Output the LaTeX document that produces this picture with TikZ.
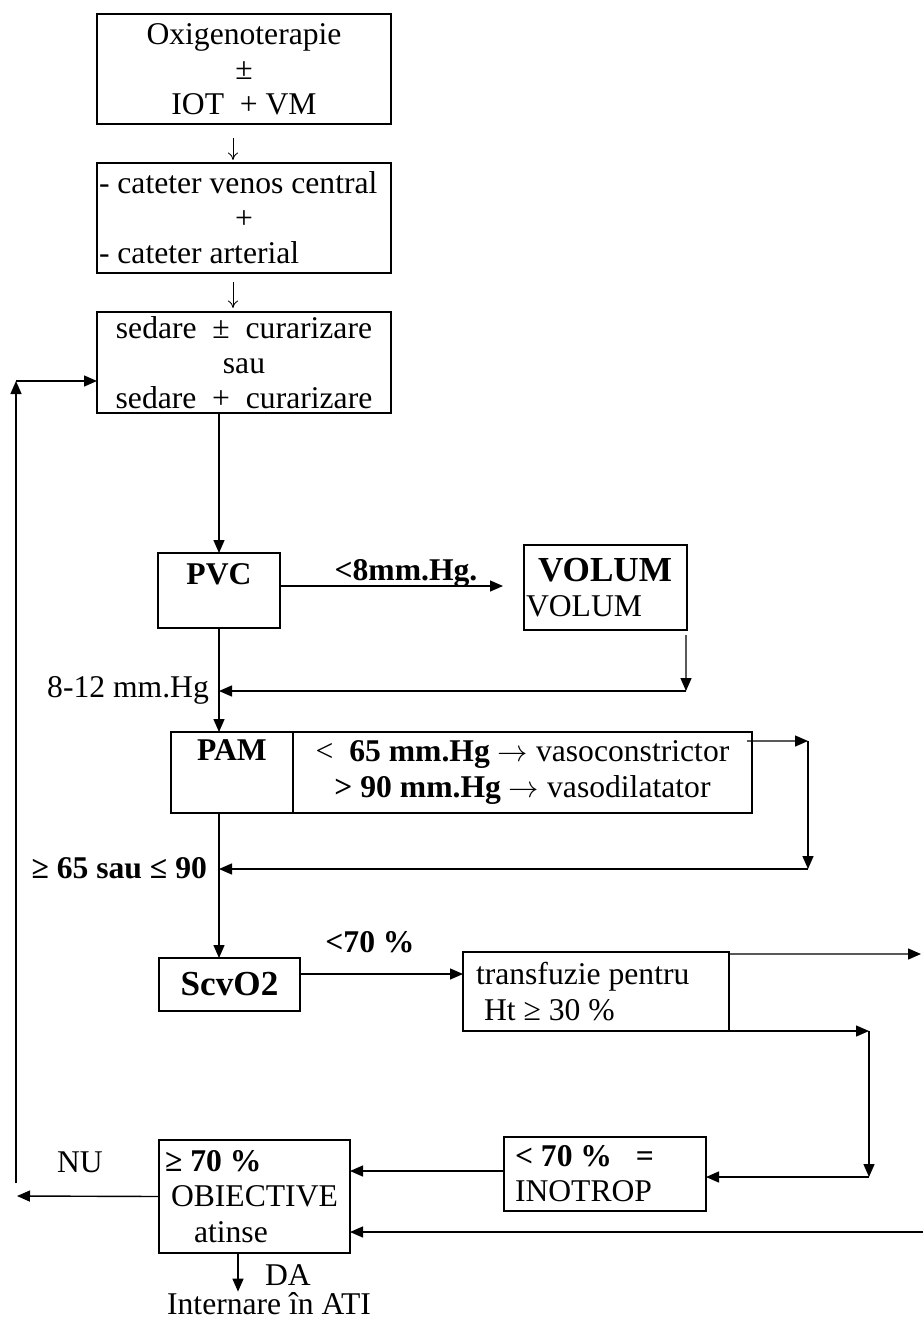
\documentclass[tikz,border=0pt]{standalone}
\usepackage{fontspec}
\setmainfont{Liberation Serif}
\usetikzlibrary{arrows.meta,positioning}
\newcommand{\fsz}{\fontsize{18}{20}\selectfont}
\newcommand{\fbig}{\fontsize{20}{22}\selectfont}

\begin{document}
\begin{tikzpicture}[
  box/.style={rectangle, draw, line width=1pt, outer sep=0pt, inner ysep=0pt, font=\fsz},
  arr/.style={-{Triangle[length=2.6mm,width=2.2mm]}, line width=0.8pt},
  tarr/.style={-{To[length=1.5mm,width=2mm]}, line width=0.5pt},
  lbl/.style={font=\fsz, inner sep=1pt}
]
\useasboundingbox (0,0) rectangle (18.46,-26.44);

% top column
\node[box, anchor=north west, minimum width=5.88cm, minimum height=2.2cm, align=center] (b1) at (1.94,-0.28) {Oxigenoterapie\\ ±\\ IOT\ \ + VM};
\node[box, anchor=north west, minimum width=5.88cm, minimum height=2.2cm, text width=5.8cm, inner xsep=0.04cm, align=flush left] (b2) at (1.94,-3.26) {- cateter\ venos\ central\\ \makebox[5.8cm]{+}\\ - cateter\ arterial};
\node[box, anchor=north west, minimum width=5.88cm, minimum height=2.02cm, align=center] (b3) at (1.94,-6.24) {sedare\ \ ±\ \ curarizare\\ sau\\ sedare\ \ +\ \ curarizare};

% checks
\node[box, anchor=north west, minimum width=2.44cm, inner xsep=0pt, text height=0.62cm, text depth=0.88cm, font=\fsz\bfseries] (pvc) at (3.16,-11.06) {PVC};
\node[box, anchor=north west, minimum width=3.26cm, minimum height=1.7cm, text width=3.18cm, inner xsep=0.04cm, align=flush left] (vol) at (10.48,-10.9) {\hspace*{0.24cm}{\fbig\bfseries VOLUM}\\ VOLUM};
\node[box, anchor=north west, minimum width=2.44cm, inner xsep=0pt, text height=0.56cm, text depth=1.06cm, font=\fsz\bfseries] (pam) at (3.42,-14.64) {PAM};
\node[box, right=0pt of pam, minimum width=9.18cm, minimum height=1.62cm, align=center] (pamr) {<\ \ \textbf{65 mm.Hg} $\rightarrow$ vasoconstrictor\\ \textbf{> 90 mm.Hg} $\rightarrow$ vasodilatator};
\node[box, anchor=north west, minimum width=2.82cm, minimum height=1.06cm, font=\fbig\bfseries] (scv) at (3.18,-19.16) {ScvO2};
\node[box, anchor=north west, minimum width=5.32cm, minimum height=1.58cm, text width=4.8cm, inner xsep=0.26cm, align=flush left] (tr) at (9.26,-19.04) {transfuzie pentru\\ \hspace*{0.16cm}Ht ≥ 30 \%};
\node[box, anchor=north west, minimum width=4.04cm, minimum height=1.48cm, text width=3.6cm, inner xsep=0.22cm, align=flush left] (ino) at (10.08,-22.74) {\textbf{< 70 \%\ \ \ =}\\ INOTROP};
\node[box, anchor=north west, minimum width=3.82cm, minimum height=2.26cm, text width=3.58cm, inner xsep=0.12cm, align=flush left] (obj) at (3.18,-22.8) {\textbf{≥ 70 \%}\\ \hspace*{0.12cm}OBIECTIVE\\ \hspace*{0.58cm}atinse};
\node[lbl, anchor=base, inner sep=0pt, text depth=0pt] (ati) at (5.38,-26.28) {Internare în ATI};

% labels
\node[lbl, font=\fsz\bfseries] (l8) at (8.12,-11.46) {<8mm.Hg.};
\node[lbl, anchor=east] (l812) at (4.22,-13.8) {8-12 mm.Hg};
\node[lbl, anchor=east, font=\fsz\bfseries] (l65) at (4.18,-17.36) {≥ 65 sau ≤ 90};
\node[lbl, font=\fsz\bfseries] (l70) at (7.4,-18.84) {<70 \%};
\node[lbl] (lnu) at (1.6,-23.24) {NU};
\node[lbl] (lda) at (5.76,-25.5) {DA};

\coordinate (vj) at (13.72,-13.82);
\coordinate (pj1) at (16.16,-14.82);
\coordinate (pj2) at (16.16,-17.38);
\coordinate (re1) at (18.42,-19.08);
\coordinate (tb) at (17.38,-20.62);
\coordinate (tc) at (17.38,-23.54);
\coordinate (re2) at (18.46,-24.64);
\coordinate (fb1) at (0.34,-23.92);
\coordinate (fb2) at (0.32,-23.66);
\coordinate (fb3) at (0.32,-7.62);

\draw[tarr] ([xshift=-0.22cm,yshift=-0.28cm]b1.south) -- ([xshift=-0.22cm,yshift=0.06cm]b2.north);
\draw[tarr] ([xshift=-0.22cm,yshift=-0.18cm]b2.south) -- ([xshift=-0.22cm,yshift=0.08cm]b3.north);
\draw[arr] (b3.south -| pvc) -- (pvc.north);
\draw[arr, shorten >=0.42cm] ([yshift=0.09cm]pvc.east) -- ([yshift=0.09cm]pvc.east -| vol.west);
\draw[arr] ([shift={(-0.02,-0.1)}]vol.south east) -- (vj);
\draw[arr] (vj) -- (vj -| pvc.south);
\draw[arr] (pvc.south) -- (pvc.south |- pam.north);
\draw[arr] ([shift={(-0.1,-0.18)}]pamr.north east) -- (pj1);
\draw[arr] (pj1) -- (pj2);
\draw[arr] (pj2) -- (pj2 -| pvc.south);
\draw[arr] (pvc.south |- pam.south) -- (pvc.south |- scv.north);
\draw[arr] ([yshift=0.21cm]scv.east) -- ([yshift=0.21cm]scv.east -| tr.west);
\draw[arr] ([yshift=-0.04cm]tr.north east) -- (re1);
\draw[arr] (tr.south east) -- (tb);
\draw[arr] (tb) -- (tc);
\draw[arr] (tc) -- (tc -| ino.east);
\draw[arr] ([yshift=0.06cm]ino.west) -- ([yshift=0.06cm]ino.west -| obj.east);
\draw[arr] (re2) -- (re2 -| obj.east);
\draw[arr] (obj.west) -- (fb1);
\draw[arr] (fb2) -- (fb3);
\draw[arr] (fb3) -- (fb3 -| b3.west);
\draw[arr] ([xshift=-0.33cm]obj.south) -- ([xshift=-0.33cm]obj.south |- ati.north);
\end{tikzpicture}
\end{document}
